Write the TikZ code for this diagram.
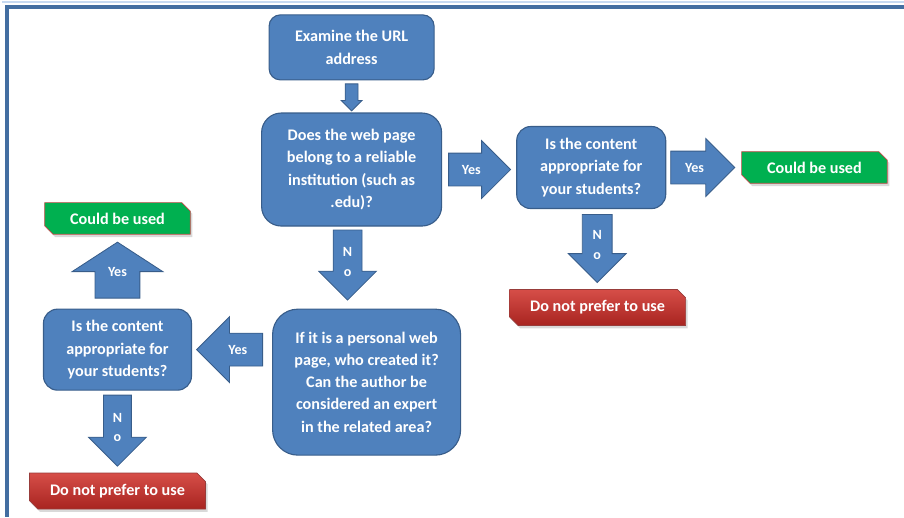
\documentclass[tikz,border=0pt]{standalone}
\usepackage{fontspec}
\setmainfont{Carlito}
\usepackage{tikz}
\usetikzlibrary{positioning, calc, shapes.arrows, shapes.misc, shadows}
\definecolor{boxblue}{RGB}{79,129,189}
\definecolor{boxline}{RGB}{56,93,138}
\definecolor{okgreen}{RGB}{0,176,80}
\definecolor{rimred}{RGB}{190,75,72}
\definecolor{redtop}{RGB}{214,78,72}
\definecolor{redbottom}{RGB}{168,36,32}
\definecolor{framepale}{RGB}{198,217,241}
\tikzset{
  stepbox/.style={
    draw=boxline, fill=boxblue, text=white, line width=0.8pt,
    rounded corners=8pt, align=center, inner sep=3pt,
    font=\bfseries\fontsize{11.5}{15.8}\selectfont
  },
  verdict/.style={
    chamfered rectangle, chamfered rectangle corners={north east, south west},
    chamfered rectangle xsep=3pt, chamfered rectangle ysep=3pt,
    text=white, line width=0.5pt, inner sep=2pt,
    font=\bfseries\fontsize{11.5}{14}\selectfont,
    drop shadow={shadow xshift=1.5pt, shadow yshift=-2pt, opacity=0.3}
  },
  useit/.style={verdict, draw=rimred, fill=okgreen,
    minimum width=3.64cm, minimum height=0.79cm},
  dontuse/.style={verdict, draw=rimred!80!black, top color=redtop, bottom color=redbottom,
    minimum width=4.4cm, minimum height=0.9cm},
  blockarrow/.style={
    single arrow, draw=boxline, fill=boxblue, text=white, line width=0.6pt,
    inner sep=0pt, align=center, font=\bfseries\fontsize{10}{14}\selectfont
  },
  sideways/.style={text height=#1/2+3.2pt, text depth=#1/2-3.2pt},
  upright/.style={text width=#1, text depth=0.3cm},
  frameline/.style={boxblue!85!black, line width=2.2pt}
}

\begin{document}
\begin{tikzpicture}
  \useasboundingbox (0,0) rectangle (22.6,12.925);
  \draw[framepale, line width=1pt] (0.05,12.87) -- (22.6,12.87);
  \draw[frameline] (0.125,12.75) -- (22.6,12.75);
  \draw[frameline] (0.175,12.8) -- (0.175,0);

  % question boxes
  \node[stepbox, minimum width=4.125cm, minimum height=1.625cm] (url) at (8.79,11.74) {Examine the URL\\address};
  \node[stepbox, rounded corners=14pt, minimum width=4.5cm, minimum height=2.825cm, below=0.8cm of url] (inst) {Does the web page\\belong to a reliable\\institution (such as\\.edu)?};
  \node[stepbox, rounded corners=10pt, minimum width=3.725cm, minimum height=2.05cm, right=1.85cm of inst, yshift=0.05cm] (cont1) {Is the content\\appropriate for\\your students?};
  \node[useit, right=1.875cm of cont1] (used1) {Could be used};
  \node[dontuse, below=2cm of cont1, xshift=0.16cm] (notuse1) {Do not prefer to use};
  \node[stepbox, rounded corners=18pt, minimum width=4.7cm, minimum height=3.65cm, below=2.05cm of inst, xshift=0.375cm] (personal) {If it is a personal web\\page, who created it?\\Can the author be\\considered an expert\\in the related area?};
  \node[stepbox, rounded corners=10pt, minimum width=3.7cm, minimum height=2.025cm, left=2cm of personal.north west, anchor=north east] (cont2) {Is the content\\appropriate for\\your students?};
  \node[useit, above=1.85cm of cont2] (used2) {Could be used};
  \node[dontuse, below=2.05cm of cont2] (notuse2) {Do not prefer to use};

  % block arrows
  \node[blockarrow, text width=0.3cm, shape border rotate=270, minimum height=0.675cm, minimum width=0.5cm,
    single arrow head extend=0.1cm, anchor=tail] (go) at ([yshift=-0.075cm]url.south) {};
  \node[blockarrow, sideways=0.8cm, minimum height=1.55cm, minimum width=1.425cm,
    single arrow head extend=0.3125cm, anchor=tail] (yes1) at ([xshift=0.15cm]inst.east) {Yes};
  \node[blockarrow, sideways=0.8cm, minimum height=1.6cm, minimum width=1.425cm,
    single arrow head extend=0.3125cm, anchor=tail] (yes2) at ([xshift=0.1cm]cont1.east) {Yes};
  \node[blockarrow, upright=0.725cm, shape border rotate=270, minimum height=1.7cm, minimum width=1.425cm,
    single arrow head extend=0.35cm, anchor=tail] (no1) at ([xshift=0.15cm, yshift=-0.125cm]cont1.south) {N\\o};
  \node[blockarrow, upright=0.7cm, shape border rotate=270, minimum height=1.75cm, minimum width=1.425cm,
    single arrow head extend=0.36cm, anchor=tail] (no2) at ([xshift=-0.1cm, yshift=-0.075cm]inst.south) {N\\o};
  \node[blockarrow, sideways=0.8cm, shape border rotate=180, minimum height=1.65cm, minimum width=1.625cm,
    single arrow head extend=0.4125cm, anchor=tail] (yes3) at ([xshift=-0.225cm]personal.west |- cont2.east) {Yes};
  \node[blockarrow, upright=1.1cm, shape border rotate=90, minimum height=1.4cm, minimum width=2.25cm,
    single arrow head extend=0.575cm, single arrow tip angle=114, anchor=tail] (yes4) at ([yshift=0.25cm]cont2.north) {Yes};
  \node[blockarrow, upright=0.675cm, shape border rotate=270, minimum height=1.775cm, minimum width=1.425cm,
    single arrow head extend=0.375cm, anchor=tail] (no3) at ([yshift=-0.1cm]cont2.south) {N\\o};
\end{tikzpicture}
\end{document}
